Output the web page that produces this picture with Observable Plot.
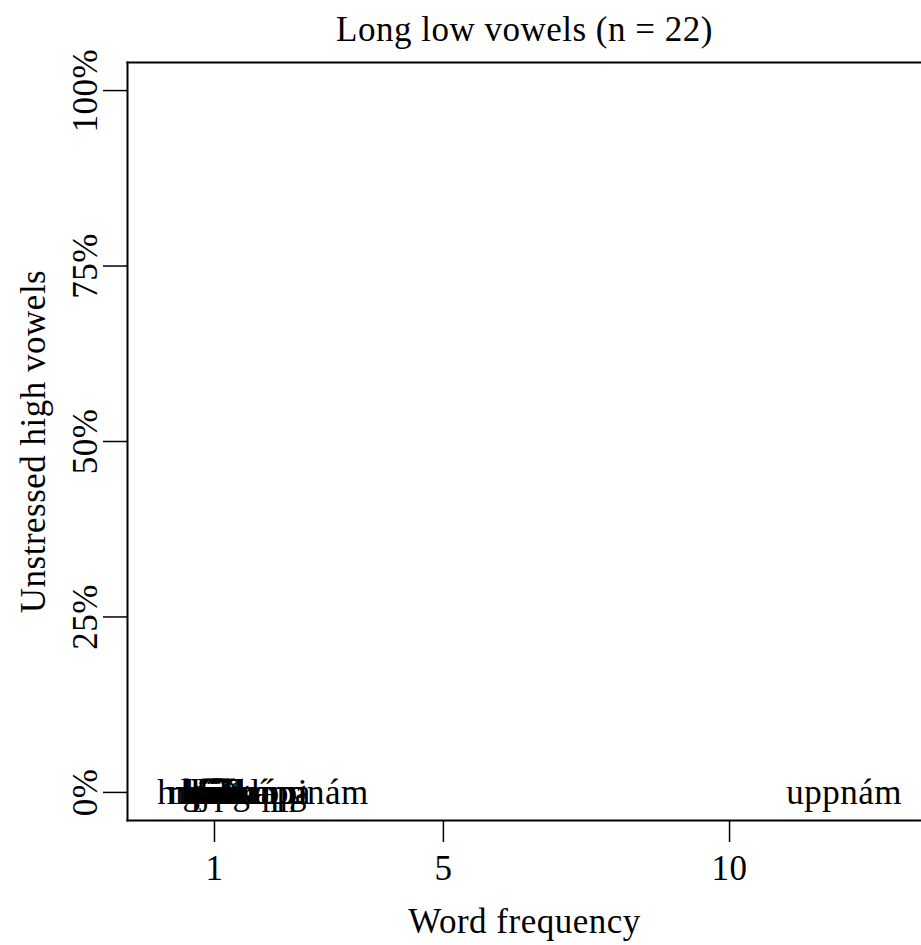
<!DOCTYPE html>
<html>
<head>
<meta charset="utf-8">
<script src="https://cdn.jsdelivr.net/npm/d3@7"></script>
<script src="https://cdn.jsdelivr.net/npm/@observablehq/plot@0.6"></script>
<style>
  html, body { margin: 0; padding: 0; background: white; }
  #chart svg text { letter-spacing: 0.5px; }
</style>
</head>
<body>
<div id="chart"></div>
<script>
const title = "Long low vowels (n = 22)";
const xLabel = "Word frequency";
const yLabel = "Unstressed high vowels";
const xTicks = [1, 5, 10];
const yTicks = [0, 25, 50, 75, 100];

const words = ["hnáskur", "máls", "vátt", "hár", "tál", "bára", "nála", "skál", "sáð", "kápa",
               "mávur", "hrár", "ljár", "lát", "þrá", "gráð", "happ", "kápu", "glápa", "tappi",
               "gnám", "uppnám"];
const frequency = [1, 1, 1, 1, 1, 1, 1, 1, 1, 1,
                   1, 1, 1, 1, 1, 1, 2, 2, 2, 2,
                   3, 12];
const highPct = [0, 0, 0, 0, 0, 0, 0, 0, 0, 0,
                 0, 0, 0, 0, 0, 0, 0, 0, 0, 0,
                 0, 0];

const data = words.map((w, i) => ({word: w, freq: frequency[i], pct: highPct[i]}));

const FS = 35;
const chart = Plot.plot({
  width: 921,
  height: 945,
  marginLeft: 127,
  marginRight: 0,
  marginTop: 62,
  marginBottom: 125,
  style: {fontFamily: "'Liberation Serif', serif", fontSize: FS + "px", background: "white", color: "black"},
  x: {domain: [-0.52, 13.354], axis: null},
  y: {domain: [-4, 104], axis: null},
  marks: [
    Plot.frame({anchor: "top", stroke: "black", strokeWidth: 2}),
    Plot.frame({anchor: "left", stroke: "black", strokeWidth: 2}),
    Plot.frame({anchor: "bottom", stroke: "black", strokeWidth: 2}),
    Plot.axisX({ticks: xTicks, tickSize: 22, tickFormat: () => "", label: null, strokeWidth: 1.5}),
    Plot.text(xTicks, {x: d => d, frameAnchor: "bottom", dy: 48, text: d => String(d), lineAnchor: "middle", fontSize: FS}),
    Plot.axisY({ticks: yTicks, tickSize: 24, tickFormat: () => "", label: null, strokeWidth: 1.5}),
    Plot.text(yTicks, {y: d => d, frameAnchor: "left", dx: -42, rotate: -90, text: d => d + "%", textAnchor: "middle", lineAnchor: "middle", fontSize: FS}),
    Plot.text(data, {x: "freq", y: "pct", text: "word", textAnchor: "middle", lineAnchor: "middle", fontSize: FS}),
    Plot.text([xLabel], {frameAnchor: "bottom", dy: 101, text: d => d, lineAnchor: "middle", fontSize: FS}),
    Plot.text([yLabel], {frameAnchor: "left", dx: -94, rotate: -90, text: d => d, textAnchor: "middle", lineAnchor: "middle", fontSize: FS}),
    Plot.text([title], {frameAnchor: "top", dy: -33, text: d => d, lineAnchor: "middle", fontSize: FS})
  ]
});
document.getElementById("chart").appendChild(chart);
</script>
</body>
</html>
